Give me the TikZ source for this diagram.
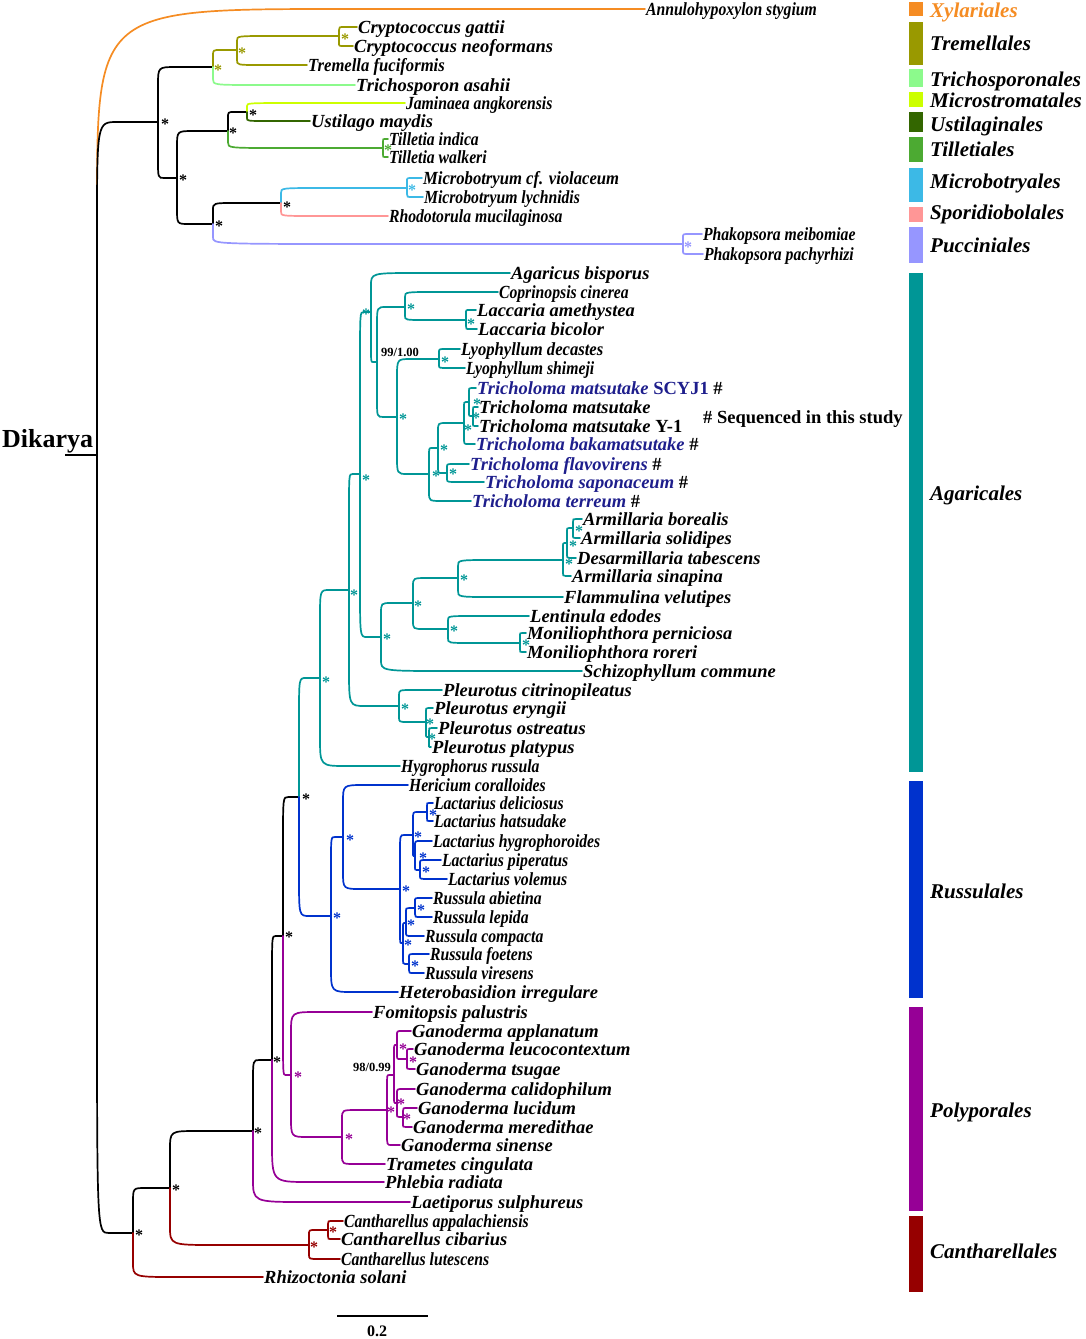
\documentclass[tikz,border=0pt]{standalone}
\usepackage{fontspec}
\setmainfont{Liberation Serif}
\usetikzlibrary{calc}

\definecolor{xyl}{RGB}{245,140,35}
\definecolor{tre}{RGB}{153,153,0}
\definecolor{tri}{RGB}{140,250,140}
\definecolor{mst}{RGB}{204,255,0}
\definecolor{ust}{RGB}{51,102,0}
\definecolor{til}{RGB}{76,170,50}
\definecolor{mbt}{RGB}{60,185,230}
\definecolor{spo}{RGB}{255,150,150}
\definecolor{puc}{RGB}{150,150,255}
\definecolor{aga}{RGB}{0,150,150}
\definecolor{rus}{RGB}{0,50,205}
\definecolor{pol}{RGB}{150,0,150}
\definecolor{can}{RGB}{150,0,0}
\definecolor{tmblue}{RGB}{30,30,140}

\newcommand\leaffont{\fontsize{18.5}{20}\selectfont\bfseries\itshape}
\newcommand\cladefont{\fontsize{21}{23}\selectfont\bfseries\itshape}
\newcommand\starfont{\fontsize{16}{16}\selectfont\bfseries}
\newcommand\tm[1]{{\color{tmblue}#1}}

\tikzset{
  br/.style={line width=1.7pt, line cap=round,
    to path={let \p1=(\tikztostart), \p2=(\tikztotarget) in
      -- (\x1,{\y2+#1*(\y1-\y2)}) .. controls (\x1,\y2) .. ({\x1+#1*(\x2-\x1)},\y2)
      -- (\tikztotarget)}},
  br/.default=0.33,
  leaf/.style={anchor=west, inner xsep=1pt, inner ysep=0pt, font=\leaffont,
    text height=15pt, text depth=3pt},
  cond/.style={xscale=0.85},
  st/.style={font=\starfont, inner sep=0pt, yshift=-2.5pt, text=#1},
  st/.default=black,
  sup/.style={font=\fontsize{12.5}{13}\selectfont\bfseries, inner sep=0pt},
  clade/.style={anchor=west, font=\cladefont, inner sep=0pt, text height=16pt, text depth=4pt},
}

\begin{document}
\begin{tikzpicture}[x=1pt,y=-1pt]
  \useasboundingbox (0,0) rectangle (1085,1339);

  % internal nodes
  \coordinate (R) at (97,455);
  \coordinate (A) at (158,122);
  \coordinate (B) at (213,67);
  \coordinate (C) at (237,50);
  \coordinate (D) at (339,36);
  \coordinate (E) at (177,178);
  \coordinate (F) at (228,131);
  \coordinate (H) at (247,112);
  \coordinate (G) at (383,148);
  \coordinate (I) at (213,224);
  \coordinate (J) at (281,203);
  \coordinate (K) at (407,188);
  \coordinate (P) at (683,244);
  % Agaricales
  \coordinate (N1) at (371,312);
  \coordinate (N2) at (360,474);
  \coordinate (N3) at (377,362);
  \coordinate (N4) at (405,307);
  \coordinate (N5) at (397,417);
  \coordinate (N6) at (466,320);
  \coordinate (N7) at (439,359);
  \coordinate (N8) at (429,474);
  \coordinate (N9) at (438,448);
  \coordinate (N10) at (464,423);
  \coordinate (N11) at (447,473);
  \coordinate (N12) at (469,402);
  \coordinate (N13) at (473,416);
  \coordinate (N14) at (381,637);
  \coordinate (N15) at (413,603);
  \coordinate (N16) at (458,578);
  \coordinate (N17) at (448,629);
  \coordinate (N18) at (563,560);
  \coordinate (N19) at (567,543);
  \coordinate (N20) at (573,528);
  \coordinate (N21) at (520,643);
  \coordinate (N22) at (349,590);
  \coordinate (N23) at (399,706);
  \coordinate (N24) at (426,722);
  \coordinate (N25) at (429,737);
  \coordinate (N26) at (320,678);
  \coordinate (N27) at (299,797);
  % Russulales
  \coordinate (N28) at (331,916);
  \coordinate (N40) at (343,837);
  \coordinate (N41) at (400,889);
  \coordinate (N42) at (413,835);
  \coordinate (N43) at (403,943);
  \coordinate (N44) at (427,812);
  \coordinate (N45) at (415,856);
  \coordinate (N46) at (420,870);
  \coordinate (N47) at (406,923);
  \coordinate (N48) at (409,964);
  \coordinate (N49) at (415,908);
  % Polyporales and the rest
  \coordinate (N29) at (283,936);
  \coordinate (N30) at (253,1131);
  \coordinate (N31) at (272,1060);
  \coordinate (N32) at (291,1075);
  \coordinate (N33) at (342,1137);
  \coordinate (N34) at (387,1110);
  \coordinate (N35) at (394,1075);
  \coordinate (N36) at (397,1045);
  \coordinate (N37) at (397,1103);
  \coordinate (N38) at (407,1059);
  \coordinate (N39) at (403,1117);
  \coordinate (N50) at (170,1188);
  \coordinate (N51) at (309,1245);
  \coordinate (N52) at (328,1230);
  \coordinate (N53) at (133,1233);

  % leaves
  \node[leaf,cond] (anst) at (645,9) {Annulohypoxylon stygium};
  \node[leaf] (crga) at (357,27) {Cryptococcus gattii};
  \node[leaf] (crne) at (353,46) {Cryptococcus neoformans};
  \node[leaf,xscale=0.9] (trfu) at (307,65) {Tremella fuciformis};
  \node[leaf] (tras) at (355,85) {Trichosporon asahii};
  \node[leaf,cond] (jaan) at (405,103) {Jaminaea angkorensis};
  \node[leaf] (usma) at (310,121) {Ustilago maydis};
  \node[leaf,cond] (tiin) at (388,139) {Tilletia indica};
  \node[leaf,cond] (tiwa) at (388,157) {Tilletia walkeri};
  \node[leaf,xscale=0.9] (mivi) at (422,178) {Microbotryum cf. violaceum};
  \node[leaf,cond] (mily) at (423,197) {Microbotryum lychnidis};
  \node[leaf,cond] (rhmu) at (388,216) {Rhodotorula mucilaginosa};
  \node[leaf,cond] (phme) at (702,234) {Phakopsora meibomiae};
  \node[leaf,cond] (phpa) at (703,254) {Phakopsora pachyrhizi};
  \node[leaf] (agbi) at (510,273) {Agaricus bisporus};
  \node[leaf,cond] (copc) at (498,292) {Coprinopsis cinerea};
  \node[leaf] (laam) at (476,310) {Laccaria amethystea};
  \node[leaf] (labi) at (477,329) {Laccaria bicolor};
  \node[leaf,xscale=0.9] (lyde) at (460,349) {Lyophyllum decastes};
  \node[leaf,cond] (lysh) at (465,368) {Lyophyllum shimeji};
  \node[leaf] (scyj) at (476,388) {\tm{Tricholoma matsutake \textup{SCYJ1}} \textup{\#}};
  \node[leaf] (trma) at (478,407) {Tricholoma matsutake};
  \node[leaf] (y1) at (478,426) {Tricholoma matsutake \textup{Y-1}};
  \node[leaf] (trba) at (475,444) {\tm{Tricholoma bakamatsutake} \textup{\#}};
  \node[leaf] (trfl) at (469,464) {\tm{Tricholoma flavovirens} \textup{\#}};
  \node[leaf] (trsa) at (484,482) {\tm{Tricholoma saponaceum} \textup{\#}};
  \node[leaf] (trte) at (471,501) {\tm{Tricholoma terreum} \textup{\#}};
  \node[leaf] (arbo) at (582,519) {Armillaria borealis};
  \node[leaf] (arso) at (580,538) {Armillaria solidipes};
  \node[leaf] (deta) at (576,558) {Desarmillaria tabescens};
  \node[leaf] (arsi) at (571,576) {Armillaria sinapina};
  \node[leaf] (flve) at (563,597) {Flammulina velutipes};
  \node[leaf] (lede) at (529,616) {Lentinula edodes};
  \node[leaf] (mope) at (526,633) {Moniliophthora perniciosa};
  \node[leaf] (moro) at (526,652) {Moniliophthora roreri};
  \node[leaf] (scco) at (582,671) {Schizophyllum commune};
  \node[leaf] (plci) at (442,690) {Pleurotus citrinopileatus};
  \node[leaf] (pler) at (433,708) {Pleurotus eryngii};
  \node[leaf] (plos) at (437,728) {Pleurotus ostreatus};
  \node[leaf] (plpl) at (431,747) {Pleurotus platypus};
  \node[leaf,cond] (hyru) at (400,766) {Hygrophorus russula};
  \node[leaf,cond] (heco) at (408,785) {Hericium coralloides};
  \node[leaf,cond] (lade) at (433,803) {Lactarius deliciosus};
  \node[leaf,cond] (laha) at (433,821) {Lactarius hatsudake};
  \node[leaf,cond] (lahy) at (432,841) {Lactarius hygrophoroides};
  \node[leaf,cond] (lapi) at (441,860) {Lactarius piperatus};
  \node[leaf,cond] (lavo) at (447,879) {Lactarius volemus};
  \node[leaf,cond] (ruab) at (432,898) {Russula abietina};
  \node[leaf,cond] (rule) at (432,917) {Russula lepida};
  \node[leaf,cond] (ruco) at (424,936) {Russula compacta};
  \node[leaf,cond] (rufo) at (429,954) {Russula foetens};
  \node[leaf,cond] (ruvi) at (424,973) {Russula viresens};
  \node[leaf] (hein) at (398,992) {Heterobasidion irregulare};
  \node[leaf] (fopa) at (372,1012) {Fomitopsis palustris};
  \node[leaf] (gaap) at (411,1031) {Ganoderma applanatum};
  \node[leaf] (gale) at (413,1049) {Ganoderma leucocontextum};
  \node[leaf] (gats) at (415,1069) {Ganoderma tsugae};
  \node[leaf] (gaca) at (415,1089) {Ganoderma calidophilum};
  \node[leaf] (galu) at (417,1108) {Ganoderma lucidum};
  \node[leaf] (game) at (412,1127) {Ganoderma meredithae};
  \node[leaf] (gasi) at (400,1145) {Ganoderma sinense};
  \node[leaf] (trci) at (385,1164) {Trametes cingulata};
  \node[leaf] (phra) at (384,1182) {Phlebia radiata};
  \node[leaf] (lasu) at (410,1202) {Laetiporus sulphureus};
  \node[leaf,cond] (caap) at (343,1221) {Cantharellus appalachiensis};
  \node[leaf] (caci) at (340,1239) {Cantharellus cibarius};
  \node[leaf,cond] (calu) at (340,1259) {Cantharellus lutescens};
  \node[leaf] (rhso) at (263,1277) {Rhizoctonia solani};

  % branches
  \draw[br=0.45,xyl] (R) to (anst.west);
  \draw[br] (R) to (A) (R) to (N53);
  \draw[br] (A) to (B) (A) to (E) (E) to (F) (E) to (I) (F) to (H) (I) to (J);
  \draw[br,tre] (B) to (C) (C) to (D) (C) to (trfu.west) (D) to (crga.west) (D) to (crne.west);
  \draw[br,tri] (B) to (tras.west);
  \draw[br,mst] (H) to (jaan.west);
  \draw[br,ust] (H) to (usma.west);
  \draw[br,til] (F) to (G) (G) to (tiin.west) (G) to (tiwa.west);
  \draw[br,mbt] (J) to (K) (K) to (mivi.west) (K) to (mily.west);
  \draw[br,spo] (J) to (rhmu.west);
  \draw[br,puc] (I) to (P) (P) to (phme.west) (P) to (phpa.west);
  \draw[br] (N53) to (N50) (N50) to (N30) (N30) to (N31) (N31) to (N29) (N29) to (N27);
  \draw[br,aga] (N27) to (N26) (N26) to (N22) (N26) to (hyru.west) (N22) to (N2) (N22) to (N23)
    (N2) to (N1) (N2) to (N14) (N1) to (agbi.west) (N1) to (N3) (N3) to (N4) (N3) to (N5)
    (N4) to (copc.west) (N4) to (N6) (N6) to (laam.west) (N6) to (labi.west)
    (N5) to (N7) (N5) to (N8) (N7) to (lyde.west) (N7) to (lysh.west)
    (N8) to (N9) (N8) to (trte.west) (N9) to (N10) (N9) to (N11)
    (N10) to (N12) (N10) to (trba.west) (N12) to (scyj.west) (N12) to (N13)
    (N13) to (trma.west) (N13) to (y1.west) (N11) to (trfl.west) (N11) to (trsa.west)
    (N14) to (N15) (N14) to (scco.west) (N15) to (N16) (N15) to (N17)
    (N16) to (N18) (N16) to (flve.west) (N18) to (N19) (N18) to (arsi.west)
    (N19) to (N20) (N19) to (deta.west) (N20) to (arbo.west) (N20) to (arso.west)
    (N17) to (lede.west) (N17) to (N21) (N21) to (mope.west) (N21) to (moro.west)
    (N23) to (plci.west) (N23) to (N24) (N24) to (pler.west) (N24) to (N25)
    (N25) to (plos.west) (N25) to (plpl.west);
  \draw[br,rus] (N27) to (N28) (N28) to (N40) (N28) to (hein.west) (N40) to (heco.west) (N40) to (N41)
    (N41) to (N42) (N41) to (N43) (N42) to (N44) (N42) to (N45)
    (N44) to (lade.west) (N44) to (laha.west) (N45) to (lahy.west) (N45) to (N46)
    (N46) to (lapi.west) (N46) to (lavo.west) (N43) to (N47) (N43) to (N48)
    (N47) to (N49) (N47) to (ruco.west) (N49) to (ruab.west) (N49) to (rule.west)
    (N48) to (rufo.west) (N48) to (ruvi.west);
  \draw[br,pol] (N29) to (N32) (N32) to (fopa.west) (N32) to (N33) (N33) to (N34) (N33) to (trci.west)
    (N34) to (N35) (N34) to (gasi.west) (N35) to (N36) (N35) to (N37)
    (N36) to (gaap.west) (N36) to (N38) (N38) to (gale.west) (N38) to (gats.west)
    (N37) to (gaca.west) (N37) to (N39) (N39) to (galu.west) (N39) to (game.west)
    (N31) to (phra.west) (N30) to (lasu.west);
  \draw[br,can] (N53) to (rhso.west) (N50) to (N51) (N51) to (N52) (N51) to (calu.west)
    (N52) to (caap.west) (N52) to (caci.west);

  % root stem
  \coordinate (stem) at (65,455);
  \draw[line width=1.7pt] (stem) -- (R);
  \node[anchor=base west, inner sep=0pt, font=\fontsize{26}{28}\selectfont\bfseries] (dik) at (2,447) {Dikarya};

  % support values
  \foreach \x/\y [count=\i] in {165/122,183/178,233/131,253/113,219/224,287/205,306/797,
      289/935,277/1060,258/1131,176/1188,139/1233}
    \node[st] (sk\i) at (\x,\y) {*};
  \foreach \x/\y [count=\i] in {345/37,242/51,218/68}
    \node[st=tre] (sr\i) at (\x,\y) {*};
  \node[st=til] (sti) at (388,148) {*};
  \node[st=mbt] (smb) at (412,188) {*};
  \node[st=puc] (spu) at (688,245) {*};
  \foreach \x/\y [count=\i] in {366/312,411/307,471/322,445/360,403/417,477/402,476/416,468/428,
      444/448,453/472,436/474,366/478,579/529,573/544,569/562,464/578,418/604,454/629,387/637,
      526/643,354/593,405/707,430/722,432/737,326/680}
    \node[st=aga] (sa\i) at (\x,\y) {*};
  \foreach \x/\y [count=\i] in {350/838,337/916,433/813,418/835,423/856,426/870,406/889,
      421/908,411/923,408/943,415/964}
    \node[st=rus] (su\i) at (\x,\y) {*};
  \foreach \x/\y [count=\i] in {298/1075,403/1047,413/1060,401/1102,407/1117,391/1110,349/1137}
    \node[st=pol] (sp\i) at (\x,\y) {*};
  \foreach \x/\y [count=\i] in {333/1230,314/1245}
    \node[st=can] (sc\i) at (\x,\y) {*};
  \node[sup] (b99) at (400,352) {99/1.00};
  \node[sup] (b98) at (372,1067) {98/0.99};

  \node[anchor=west, inner sep=0pt, font=\fontsize{18.5}{20}\selectfont\bfseries,
    text height=15pt, text depth=3pt] (seq) at (703,417) {\# Sequenced in this study};

  % clade bars
  \foreach \ya/\yb/\c/\t/\ty/\tc [count=\i] in {2/16/xyl/Xylariales/11/xyl,
      22/65/tre/Tremellales/44/black, 69/87/tri/Trichosporonales/80/black,
      92/107/mst/Microstromatales/101/black, 112/132/ust/Ustilaginales/125/black,
      137/162/til/Tilletiales/150/black, 168/202/mbt/Microbotryales/182/black,
      207/222/spo/Sporidiobolales/213/black, 227/263/puc/Pucciniales/246/black,
      273/772/aga/Agaricales/494/black, 781/998/rus/Russulales/892/black,
      1007/1211/pol/Polyporales/1111/black, 1216/1292/can/Cantharellales/1252/black} {
    \fill[\c] (909,\ya) rectangle (923,\yb);
    \node[clade, text=\tc] (lg\i) at (930,\ty) {\t};
  }

  % scale bar
  \coordinate (sb1) at (337,1316);
  \coordinate (sb2) at (428,1316);
  \draw[line width=2pt] (sb1) -- (sb2);
  \node[font=\fontsize{16}{17}\selectfont\bfseries] (sbl) at (377,1331) {0.2};
\end{tikzpicture}
\end{document}
